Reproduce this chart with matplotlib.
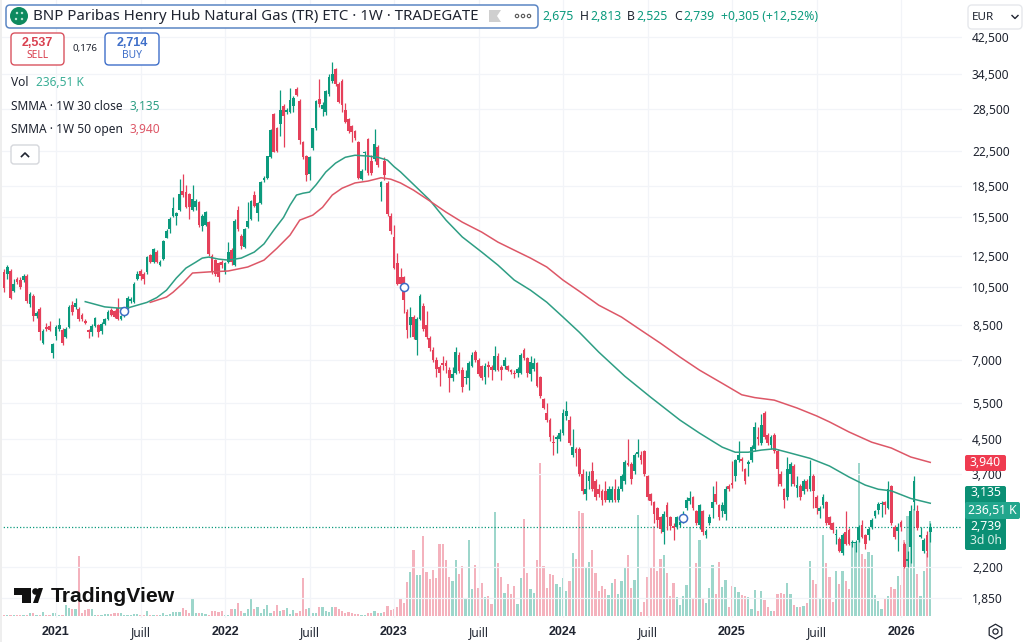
import matplotlib
matplotlib.use('Agg')
import matplotlib.pyplot as plt
from matplotlib.patches import FancyBboxPatch, Circle, Polygon, Rectangle
import numpy as np
import pandas as pd

plt.rcParams['font.family'] = ['Noto Sans', 'DejaVu Sans']

# weekly candles, sep 2020 -> mar 2026
weeks = pd.date_range('2020-09-14', periods=286, freq='W-MON')

opens = [
    11.4, 11.3, 11.5, 10.3, 11.0, 10.9, 10.9, 11.2, 9.55, 10.0,
    8.95, 9.3, 7.7, 8.4, 8.45, 7.25, 8.0, 8.3, 8.25, 7.95,
    8.4, 9.5, 9.4, 9.3, 9.0, 8.7, 8.25, 8.15, 8.45, 8.5,
    8.2, 8.55, 8.8, 9.25, 9.2, 9.35, 8.8, 8.95, 9.35, 9.7,
    9.65, 11.0, 11.5, 11.3, 11.4, 12.55, 12.05, 12.8, 11.85, 12.3,
    13.85, 14.5, 15.6, 15.6, 16.2, 18.0, 17.9, 17.7, 16.2, 16.4,
    16.9, 14.8, 14.9, 15.1, 12.5, 12.2, 12.0, 12.1, 11.4, 12.05,
    12.9, 11.9, 16.2, 14.0, 13.15, 14.7, 15.4, 17.6, 15.9, 16.8,
    19.1, 19.3, 21.7, 27.6, 25.5, 26.2, 28.9, 28.0, 28.0, 28.9,
    31.8, 29.8, 23.6, 21.9, 19.8, 22.8, 25.5, 30.0, 28.5, 28.0,
    30.9, 33.3, 35.5, 32.7, 33.2, 28.2, 26.9, 25.8, 25.1, 23.6,
    19.2, 22.2, 24.0, 21.2, 21.5, 23.0, 18.4, 21.3, 18.8, 15.6,
    13.9, 12.0, 11.1, 11.1, 9.15, 8.5, 8.9, 7.8, 8.8, 9.45,
    8.5, 7.9, 7.4, 7.0, 6.7, 6.85, 6.85, 6.6, 6.3, 6.5,
    7.2, 6.6, 6.3, 6.3, 6.75, 7.3, 7.0, 6.75, 6.35, 6.78,
    6.7, 6.6, 7.15, 6.7, 6.75, 6.75, 6.6, 6.5, 6.5, 6.5,
    7.4, 7.05, 6.45, 6.65, 6.85, 6.35, 5.6, 5.2, 5.0, 4.42,
    4.5, 4.5, 4.65, 5.1, 5.0, 4.1, 4.25, 4.25, 3.7, 3.3,
    3.55, 3.75, 3.55, 3.4, 3.35, 3.35, 3.2, 3.2, 3.4, 3.2,
    3.4, 3.55, 3.92, 3.9, 3.75, 4.13, 4.1, 4.2, 3.65, 3.3,
    3.15, 3.05, 2.9, 2.67, 3.1, 2.9, 2.76, 2.75, 2.78, 2.82,
    3.05, 3.18, 3.25, 3.0, 2.77, 3.0, 2.62, 2.8, 3.05, 3.3,
    3.1, 3.0, 2.95, 3.45, 3.52, 3.65, 4.0, 4.02, 3.8, 3.9,
    4.0, 4.25, 4.55, 4.4, 5.2, 4.6, 4.35, 4.6, 4.2, 3.7,
    3.4, 3.25, 3.7, 3.85, 3.42, 3.45, 3.35, 3.55, 3.4, 3.65,
    3.25, 3.0, 3.1, 3.15, 2.9, 2.8, 2.62, 2.57, 2.37, 2.67,
    2.7, 2.51, 2.51, 2.55, 2.77, 2.62, 2.62, 2.75, 2.92, 3.02,
    3.12, 3.15, 3.05, 3.45, 2.75, 2.68, 2.82, 2.5, 2.27, 2.45,
    3.15, 3.0, 2.6, 2.4, 2.63, 2.675,
]
highs = [
    11.6, 11.9, 11.6, 11.0, 11.1, 11.1, 11.3, 11.3, 10.2, 10.1,
    9.2, 9.4, 8.3, 8.6, 8.7, 7.7, 8.5, 8.85, 8.35, 8.4,
    9.5, 9.7, 9.9, 9.4, 9.1, 8.8, 8.3, 8.55, 8.9, 8.55,
    8.65, 8.85, 9.25, 9.35, 9.25, 9.9, 9.0, 9.4, 10.0, 9.95,
    10.8, 11.5, 11.6, 11.45, 12.5, 12.65, 13.1, 12.9, 12.2, 13.7,
    14.5, 15.5, 17.4, 16.0, 19.2, 19.8, 18.6, 17.8, 18.6, 17.2,
    17.0, 15.8, 16.1, 15.2, 12.6, 12.3, 12.1, 12.2, 12.1, 13.5,
    13.1, 15.4, 16.5, 14.1, 14.6, 16.9, 17.1, 18.0, 16.9, 19.0,
    19.5, 21.9, 25.4, 27.8, 25.7, 31.6, 29.2, 28.6, 32.0, 30.5,
    32.2, 30.0, 23.8, 22.0, 21.9, 25.6, 29.9, 33.7, 29.5, 31.7,
    34.5, 36.9, 35.8, 33.0, 33.6, 29.4, 27.0, 26.0, 25.3, 23.8,
    20.3, 22.5, 24.2, 22.0, 25.4, 23.2, 19.0, 21.7, 19.0, 15.9,
    14.9, 12.7, 11.7, 11.2, 9.3, 9.4, 9.0, 8.9, 10.1, 9.6,
    9.2, 8.0, 7.5, 7.1, 6.8, 7.15, 7.0, 6.7, 6.7, 7.5,
    7.3, 6.7, 6.6, 6.95, 7.3, 7.4, 7.05, 6.8, 6.85, 6.95,
    6.8, 7.55, 7.25, 6.8, 7.1, 6.8, 6.65, 6.6, 6.7, 7.25,
    7.45, 7.1, 7.15, 7.05, 6.9, 6.4, 5.65, 5.5, 5.05, 4.6,
    4.6, 4.75, 5.3, 5.55, 5.1, 4.75, 4.3, 4.3, 3.8, 3.75,
    3.75, 3.95, 3.6, 3.5, 3.4, 3.55, 3.45, 3.45, 3.6, 3.45,
    3.7, 4.0, 4.5, 3.95, 4.15, 4.5, 4.2, 4.22, 3.67, 3.32,
    3.17, 3.07, 2.92, 3.0, 3.15, 2.92, 2.8, 2.92, 2.85, 3.0,
    3.25, 3.35, 3.27, 3.02, 3.12, 3.02, 2.72, 2.95, 3.45, 3.55,
    3.12, 3.15, 3.45, 3.5, 3.98, 4.02, 4.45, 4.05, 3.82, 4.0,
    4.35, 4.95, 4.8, 5.15, 5.25, 4.65, 4.6, 4.65, 4.25, 3.75,
    3.42, 4.05, 3.95, 3.9, 3.65, 3.5, 3.6, 3.58, 4.0, 3.7,
    3.28, 3.08, 3.3, 3.18, 2.92, 2.82, 2.72, 2.6, 2.66, 3.0,
    2.73, 2.55, 2.55, 2.78, 2.85, 2.64, 2.75, 2.88, 3.02, 3.15,
    3.18, 3.17, 3.55, 3.47, 2.78, 2.8, 2.85, 2.53, 2.4, 3.1,
    3.65, 3.1, 2.75, 2.58, 2.68, 2.813,
]
lows = [
    10.2, 11.0, 9.8, 10.2, 10.7, 10.4, 10.8, 9.6, 9.4, 8.7,
    8.85, 7.8, 7.65, 8.2, 8.2, 7.05, 7.8, 8.2, 7.6, 7.9,
    8.35, 9.0, 9.3, 8.7, 8.7, 8.55, 7.9, 8.0, 8.4, 7.95,
    8.1, 8.5, 8.75, 8.95, 8.85, 8.75, 8.75, 8.9, 9.3, 9.6,
    9.6, 10.9, 10.9, 10.7, 11.3, 12.0, 12.0, 12.0, 11.8, 12.2,
    13.8, 14.2, 15.5, 14.9, 16.1, 17.4, 16.3, 15.4, 16.1, 16.2,
    14.7, 14.4, 14.8, 12.5, 11.3, 11.2, 10.8, 11.7, 11.3, 12.0,
    11.9, 11.8, 14.4, 13.0, 13.05, 14.6, 15.3, 16.4, 15.2, 16.7,
    18.9, 19.2, 21.6, 22.3, 22.4, 24.5, 23.0, 27.6, 27.8, 28.0,
    30.5, 23.4, 21.5, 19.0, 19.1, 22.6, 25.3, 28.8, 27.4, 27.5,
    30.6, 32.9, 32.4, 29.4, 27.9, 26.3, 24.9, 23.7, 23.9, 19.2,
    19.1, 20.2, 19.7, 19.7, 21.3, 20.5, 17.0, 19.1, 15.6, 14.1,
    11.6, 10.6, 10.6, 9.1, 7.9, 7.95, 7.85, 7.2, 8.75, 8.2,
    7.85, 7.35, 6.9, 6.35, 6.05, 6.6, 6.5, 5.85, 6.2, 6.45,
    6.5, 5.85, 6.1, 5.9, 6.7, 6.9, 6.4, 6.25, 6.1, 6.35,
    6.25, 6.55, 6.55, 6.25, 6.65, 6.55, 6.45, 6.3, 6.35, 6.45,
    7.0, 6.35, 6.2, 6.55, 6.0, 5.65, 5.3, 4.95, 4.45, 4.1,
    4.15, 4.45, 4.6, 5.0, 4.35, 4.05, 3.85, 3.65, 3.3, 3.2,
    3.4, 3.35, 3.2, 3.25, 3.1, 3.15, 3.15, 3.15, 3.15, 3.15,
    3.35, 3.5, 3.85, 3.5, 3.7, 4.05, 3.9, 3.65, 3.2, 3.1,
    2.8, 2.75, 2.65, 2.5, 2.7, 2.7, 2.55, 2.72, 2.74, 2.8,
    3.02, 3.12, 3.02, 2.78, 2.72, 2.62, 2.58, 2.78, 2.88, 3.12,
    2.85, 2.9, 2.85, 3.35, 3.42, 3.55, 3.95, 3.75, 3.5, 3.65,
    3.95, 4.2, 4.35, 4.35, 4.5, 4.35, 4.25, 4.15, 3.45, 3.45,
    3.05, 3.2, 3.45, 3.45, 3.25, 3.2, 3.3, 3.35, 3.35, 3.05,
    2.95, 2.88, 3.05, 2.78, 2.72, 2.65, 2.5, 2.38, 2.35, 2.48,
    2.48, 2.46, 2.38, 2.52, 2.58, 2.43, 2.55, 2.72, 2.88, 2.95,
    2.9, 2.95, 3.03, 2.78, 2.56, 2.4, 2.68, 2.18, 2.2, 2.25,
    3.02, 2.7, 2.58, 2.37, 2.32, 2.525,
]
closes = [
    10.45, 11.75, 9.9, 10.7, 10.8, 10.5, 11.2, 9.7, 10.1, 8.95,
    9.1, 8.15, 8.2, 8.3, 8.25, 7.65, 8.4, 8.5, 7.7, 8.3,
    9.4, 9.15, 9.6, 8.8, 8.8, 8.6, 8.15, 8.45, 8.85, 8.15,
    8.55, 8.8, 9.15, 9.0, 8.9, 8.8, 8.95, 9.3, 9.9, 9.85,
    10.7, 11.3, 11.2, 11.0, 12.4, 12.05, 13.0, 12.1, 12.1, 13.6,
    14.4, 15.35, 16.3, 15.9, 17.7, 17.6, 16.4, 16.4, 17.2, 17.0,
    14.9, 15.6, 16.0, 12.6, 11.4, 11.3, 11.1, 11.9, 12.0, 12.75,
    12.05, 15.2, 14.5, 13.2, 14.5, 15.2, 17.0, 16.5, 16.8, 18.9,
    19.3, 21.8, 25.3, 22.4, 22.5, 28.2, 27.3, 28.2, 29.9, 30.2,
    30.8, 23.9, 21.7, 19.7, 21.7, 25.5, 29.7, 29.2, 29.0, 31.5,
    34.0, 34.5, 32.7, 29.6, 29.0, 26.5, 25.2, 25.0, 24.2, 19.3,
    20.1, 22.3, 19.9, 19.9, 23.4, 20.8, 18.9, 19.7, 15.8, 14.4,
    11.7, 10.7, 10.7, 9.75, 8.25, 8.9, 7.95, 8.8, 10.0, 8.3,
    7.95, 7.45, 7.0, 6.65, 6.5, 6.8, 6.75, 6.3, 6.45, 7.3,
    6.55, 6.0, 6.35, 6.85, 7.2, 7.0, 6.45, 6.3, 6.75, 6.72,
    6.6, 7.15, 6.6, 6.6, 7.0, 6.6, 6.52, 6.45, 6.65, 7.2,
    7.05, 6.5, 6.9, 6.85, 6.05, 5.7, 5.35, 5.0, 4.55, 4.38,
    4.55, 4.65, 5.2, 5.25, 4.4, 4.3, 4.15, 3.7, 3.35, 3.4,
    3.65, 3.4, 3.25, 3.3, 3.2, 3.2, 3.4, 3.4, 3.2, 3.4,
    3.65, 3.95, 3.88, 3.6, 4.1, 4.17, 4.0, 3.7, 3.25, 3.17,
    2.95, 2.85, 2.72, 2.95, 2.9, 2.76, 2.73, 2.9, 2.82, 2.88,
    3.2, 3.22, 3.05, 2.8, 3.1, 2.67, 2.68, 2.9, 3.15, 3.15,
    2.9, 3.1, 3.4, 3.4, 3.48, 4.0, 4.1, 3.98, 3.55, 3.95,
    4.3, 4.8, 4.5, 4.85, 4.55, 4.4, 4.55, 4.2, 3.8, 3.5,
    3.2, 3.8, 3.9, 3.5, 3.47, 3.25, 3.55, 3.4, 3.65, 3.35,
    3.05, 3.05, 3.25, 2.8, 2.78, 2.7, 2.64, 2.4, 2.63, 2.5,
    2.5, 2.53, 2.53, 2.74, 2.6, 2.5, 2.72, 2.85, 3.0, 3.12,
    3.14, 3.1, 3.4, 2.8, 2.6, 2.75, 2.75, 2.2, 2.29, 3.0,
    3.55, 2.73, 2.62, 2.55, 2.4, 2.739,
]
# volume, thousands
volumes = [
    3, 3, 3, 2, 2, 2, 2, 3, 7, 7,
    2, 3, 9, 2, 2, 8, 8, 2, 2, 28,
    21, 18, 17, 149, 8, 15, 17, 17, 3, 3,
    3, 4, 4, 5, 8, 8, 8, 3, 3, 3,
    5, 4, 3, 3, 12, 2, 2, 2, 2, 7,
    2, 4, 10, 10, 10, 20, 15, 8, 42, 7,
    8, 8, 4, 2, 12, 13, 10, 12, 3, 2,
    18, 18, 32, 13, 8, 17, 46, 18, 23, 7,
    17, 28, 8, 12, 27, 13, 15, 21, 5, 15,
    7, 13, 95, 17, 21, 7, 8, 22, 22, 12,
    10, 22, 22, 18, 12, 8, 10, 7, 4, 4,
    3, 2, 8, 7, 12, 7, 8, 10, 25, 15,
    18, 23, 46, 33, 85, 110, 164, 101, 101, 198,
    110, 93, 115, 95, 179, 179, 139, 98, 87, 139,
    104, 125, 46, 188, 66, 127, 70, 81, 48, 51,
    30, 260, 133, 98, 58, 80, 55, 75, 30, 94,
    242, 108, 68, 58, 139, 382, 125, 69, 105, 101,
    80, 71, 94, 61, 87, 156, 141, 261, 256, 121,
    134, 164, 108, 61, 75, 66, 52, 83, 91, 56,
    88, 119, 151, 70, 90, 251, 10, 35, 96, 123,
    224, 113, 143, 151, 106, 50, 81, 48, 27, 51,
    76, 221, 44, 131, 188, 45, 33, 70, 127, 56,
    134, 71, 90, 22, 75, 73, 60, 53, 51, 48,
    17, 65, 13, 61, 40, 23, 13, 12, 55, 58,
    55, 81, 55, 27, 22, 22, 25, 32, 136, 90,
    80, 42, 201, 133, 96, 35, 111, 80, 113, 88,
    66, 181, 181, 382, 154, 143, 159, 153, 53, 37,
    17, 43, 50, 71, 66, 100, 78, 188, 249, 260,
    266, 105, 51, 113, 156, 236.51,
]

smma30_idx = [25, 31, 35, 38, 44, 47, 50, 53, 56, 59, 61, 63, 66, 69, 73, 77, 80, 83, 86, 88,
              90, 92, 94, 96, 99, 102, 105, 108, 112, 115, 118, 120, 122, 131, 136, 141, 147,
              152, 157, 162, 167, 172, 177, 183, 191, 199, 208, 214, 221, 225, 229, 233, 237,
              241, 248, 254, 260, 265, 269, 273, 279, 285]
smma30_val = [9.68, 9.4, 9.34, 9.34, 9.64, 9.9, 10.32, 11.04, 11.68, 12.07, 12.35, 12.42, 12.28,
              12.21, 12.35, 12.77, 13.37, 14.44, 15.5, 16.6, 17.57, 17.75, 17.86, 18.6, 19.98,
              21.0, 21.7, 21.95, 21.85, 21.7, 21.35, 20.6, 20.0, 17.08, 15.27, 13.9, 12.77,
              11.87, 10.92, 10.32, 9.65, 8.88, 8.16, 7.3, 6.38, 5.67, 4.99, 4.64, 4.29, 4.17,
              4.17, 4.22, 4.25, 4.17, 4.03, 3.86, 3.63, 3.47, 3.39, 3.36, 3.22, 3.135]
smma50_idx = [45, 50, 52, 55, 58, 63, 69, 75, 80, 84, 88, 91, 95, 98, 101, 104, 108, 112, 116,
              119, 122, 126, 131, 136, 141, 147, 152, 157, 162, 167, 172, 177, 183, 190, 196,
              202, 208, 214, 221, 227, 231, 237, 244, 250, 254, 260, 267, 273, 279, 285]
smma50_val = [9.64, 9.93, 10.2, 10.72, 11.36, 11.43, 11.49, 11.75, 12.21, 13.05, 14.04, 15.27,
              15.7, 16.4, 17.57, 18.25, 18.8, 19.0, 19.35, 19.2, 18.8, 18.06, 17.0, 15.97, 15.1,
              14.28, 13.5, 12.91, 12.35, 11.75, 10.92, 10.26, 9.49, 8.88, 8.25, 7.67, 7.1, 6.6,
              6.13, 5.75, 5.66, 5.58, 5.34, 5.11, 4.94, 4.67, 4.41, 4.27, 4.06, 3.94]

# blue dividend/event dots
event_idx = [37, 123, 209]
event_val = [9.2, 10.5, 2.88]

price_ticks = [42.5, 34.5, 28.5, 22.5, 18.5, 15.5, 12.5, 10.5, 8.5, 7.0, 5.5, 4.5, 3.7, 2.2, 1.85]
price_labels = ['42,500', '34,500', '28,500', '22,500', '18,500', '15,500', '12,500', '10,500',
                '8,500', '7,000', '5,500', '4,500', '3,700', '2,200', '1,850']
time_weeks = ['2021-01-04', '2021-07-05', '2022-01-03', '2022-07-04', '2023-01-02', '2023-07-03',
              '2024-01-01', '2024-07-01', '2024-12-30', '2025-06-30', '2025-12-29']
time_labels = ['2021', 'Juill', '2022', 'Juill', '2023', 'Juill', '2024', 'Juill', '2025', 'Juill', '2026']
last_price = 2.739

RED = '#E5405A'
GREEN = '#0B9A7D'
BLUE = '#3D6CC4'
DARK = '#1f2430'
GRID = '#f2f4f8'
BOLD_FONT = ['Liberation Sans', 'DejaVu Sans']

opens, highs, lows, closes, volumes = map(np.array, (opens, highs, lows, closes, volumes))
x = np.arange(len(weeks))
up = closes >= opens
colors = np.where(up, GREEN, RED)

W, H = 1024, 642
fig = plt.figure(figsize=(W / 100, H / 100), dpi=100, facecolor='white')
plot_rect = [0, (H - 618) / H, 962 / W, 618 / H]
xlim = (-4 / 3.25, (962 - 4) / 3.25)

# volume sits under the candles
ax_vol = fig.add_axes(plot_rect)
ax_vol.bar(x, volumes, width=0.7, color=colors, alpha=0.4, linewidth=0)
ax_vol.set_xlim(xlim)
ax_vol.set_ylim(-5, 1534)
ax_vol.axis('off')

ax = fig.add_axes(plot_rect)
ax.patch.set_alpha(0)
ax.set_yscale('log')
ax.set_xlim(xlim)
ax.set_ylim(1.65, 52.3)

ax.vlines(x, lows, highs, colors=colors, linewidth=0.9, zorder=3)
ax.bar(x, np.abs(closes - opens), bottom=np.minimum(opens, closes), width=0.88,
       color=colors, linewidth=0, zorder=4)

ax.plot(smma30_idx, smma30_val, color='#2E9E84', linewidth=1.1, zorder=5)
ax.plot(smma50_idx, smma50_val, color='#DD5767', linewidth=1.1, zorder=5)
ax.scatter(event_idx, event_val, s=34, facecolor='white', edgecolor=BLUE, linewidth=1.1, zorder=6)
ax.axhline(last_price, color='#0B9A7D', linewidth=0.9, linestyle=(0, (1, 1.6)), zorder=2)

ax.yaxis.tick_right()
ax.set_yticks(price_ticks)
ax.set_yticklabels(price_labels)
ax.minorticks_off()
ax.tick_params(axis='y', length=0, pad=7.2, labelsize=8.6, labelcolor=DARK)
for lab in ax.get_yticklabels():
    lab.set_ha('left')
tick_pos = weeks.get_indexer(pd.to_datetime(time_weeks))
ax.set_xticks(tick_pos)
ax.set_xticklabels(time_labels)
ax.tick_params(axis='x', length=0, pad=5.6, labelsize=8.6, labelcolor=DARK)
for lab, txt in zip(ax.get_xticklabels(), time_labels):
    if txt != 'Juill':
        lab.set_fontfamily(BOLD_FONT)
        lab.set_fontweight('bold')
        lab.set_fontsize(9)
ax.grid(True, color=GRID, linewidth=0.9, zorder=0)
ax.set_axisbelow(True)
for s in ax.spines.values():
    s.set_visible(False)

# overlay in screen pixels for the tradingview chrome
ui = fig.add_axes([0, 0, 1, 1])
ui.set_xlim(0, W)
ui.set_ylim(H, 0)
ui.axis('off')
ui.patch.set_alpha(0)


def rbox(x0, y0, x1, y1, face='white', edge='none', lw=1.0, r=3):
    p = FancyBboxPatch((x0 + r, y0 + r), x1 - x0 - 2 * r, y1 - y0 - 2 * r,
                       boxstyle='round,pad=%g,rounding_size=%g' % (r, r),
                       facecolor=face, edgecolor=edge, linewidth=lw, zorder=8)
    ui.add_patch(p)


def label(px, py, s, color=DARK, size=8.6, ha='left', weight='normal'):
    family = BOLD_FONT if weight == 'bold' else plt.rcParams['font.family']
    ui.text(px, py, s, color=color, fontsize=size, ha=ha, va='center', fontweight=weight,
            family=family, zorder=9)


ui.add_patch(Rectangle((0, 0), 2, H, facecolor='#eeeeee', edgecolor='none', zorder=7))

# title bar
rbox(6, 5, 538, 28, edge='#5B86C4', lw=1.1, r=4)
ui.add_patch(Circle((19, 16), 9, facecolor='#0E8A5F', edgecolor='none', zorder=9))
for dx, dy in [(-3, 3), (3, -3), (-2, -3), (3, 3)]:
    ui.add_patch(Circle((19 + dx, 16 + dy), 1.2, facecolor='#bfe6d6', edgecolor='none', zorder=10))
label(33, 16, 'BNP Paribas Henry Hub Natural Gas (TR) ETC · 1W · TRADEGATE', size=10.82)
ui.add_patch(Polygon([(489, 10), (501, 10), (497, 16), (501, 22), (489, 22)],
                     facecolor='#cfcfcf', edgecolor='none', zorder=9))
for px in (517, 523, 529):
    ui.add_patch(Circle((px, 16), 1.7, facecolor='white', edgecolor='#555555', linewidth=0.8, zorder=9))

# OHLC readout
label(542, 16, '2,675', GREEN, 8.8)
label(580, 16, 'H', DARK, 8.8)
label(590, 16, '2,813', GREEN, 8.8)
label(627, 16, 'B', DARK, 8.8)
label(636, 16, '2,525', GREEN, 8.8)
label(674, 16, 'C', DARK, 8.8)
label(683, 16, '2,739', GREEN, 8.8)
label(721, 16, '+0,305 (+12,52%)', GREEN, 8.8)

# sell / buy
rbox(11, 33, 64, 65, edge='#D9535F', lw=1.0, r=4)
label(37.5, 43, '2,537', '#D9404F', 9, 'center', 'bold')
label(37.5, 56, 'SELL', '#D9404F', 7.4, 'center')
label(85, 49, '0,176', DARK, 7.0, 'center')
rbox(105, 33, 159, 65, edge='#3F6FC9', lw=1.0, r=4)
label(132, 43, '2,714', '#3F6FC9', 9, 'center', 'bold')
label(132, 56, 'BUY', '#3F6FC9', 7.4, 'center')

# indicator legend
label(11, 82.5, 'Vol')
label(36, 82.5, '236,51 K', '#3AAE96')
label(11, 106.5, 'SMMA · 1W 30 close')
label(130, 106.5, '3,135', '#2E9E84')
label(11, 129.5, 'SMMA · 1W 50 open')
label(129, 129.5, '3,940', '#DD5767')
rbox(11, 145, 39, 164, edge='#d5d7dc', lw=1.0, r=3)
ui.plot([21.5, 25, 28.5], [156.5, 153, 156.5], color=DARK, linewidth=1.2, zorder=9)

# price tags on the scale
rbox(965, 455, 1006, 471, face='#EF3B50', r=2)
label(985.5, 463, '3,940', 'white', 8.8, 'center')
rbox(965, 486, 1006, 550, face='#0B8F74', r=2)
label(985.5, 493, '3,135', 'white', 8.8, 'center')
rbox(965, 502, 1020, 519, face='#22A68D', r=2)
label(992, 510, '236,51 K', 'white', 8.8, 'center')
label(985.5, 527, '2,739', 'white', 8.8, 'center')
label(985.5, 541, '3d 0h', '#d5f0e8', 8.8, 'center')

# currency button
rbox(968, 5, 1022, 29, edge='#e6e8ec', lw=1.0, r=4)
label(972, 17.5, 'EUR', DARK, 8.4)
ui.plot([1012, 1015, 1018], [15.5, 18.5, 15.5], color=DARK, linewidth=1.0, zorder=9)

# logo
ui.add_patch(Polygon([(14, 588), (31, 588), (31, 603), (22, 603), (22, 595), (14, 595)],
                     facecolor='#111111', edgecolor='none', zorder=9))
ui.add_patch(Circle((35.5, 591.5), 3.3, facecolor='#111111', edgecolor='none', zorder=9))
ui.add_patch(Polygon([(33, 603), (38.5, 588), (43, 588), (38, 603)],
                     facecolor='#111111', edgecolor='none', zorder=9))
label(51, 596.5, 'TradingView', '#111111', 15.2, 'left', 'bold')

# settings gear
ui.scatter([995], [631], s=110, marker='h', facecolor='white', edgecolor=DARK, linewidth=0.9, zorder=9)
ui.scatter([995], [631], s=14, marker='o', facecolor='white', edgecolor=DARK, linewidth=0.9, zorder=10)

fig.savefig('out.png', dpi=100)
